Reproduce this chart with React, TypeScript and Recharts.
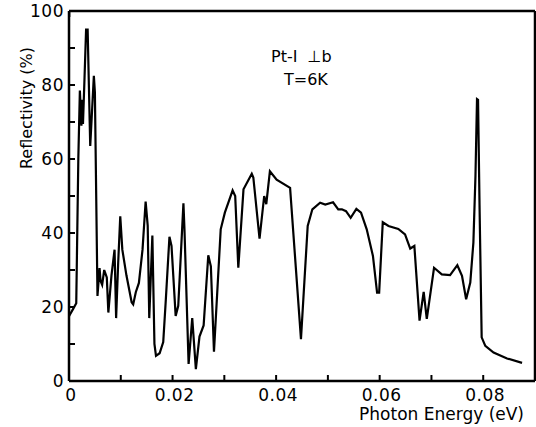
import { Line, LineChart, XAxis, YAxis } from "recharts";

// photon energy (eV) and reflectivity (%)
const energy = [
  0, 0.0008, 0.0014, 0.0018, 0.0021, 0.0023, 0.0024, 0.0026, 0.0027, 0.003, 0.0033, 0.0036,
  0.0041, 0.0048, 0.005, 0.0055, 0.0059, 0.0061, 0.0064, 0.0068, 0.0073, 0.0076, 0.0082,
  0.0088, 0.0091, 0.0095, 0.0099, 0.0103, 0.0111, 0.0121, 0.0124, 0.0129, 0.0135, 0.0142,
  0.0148, 0.0152, 0.0155, 0.0161, 0.0165, 0.0168, 0.0175, 0.0182, 0.0187, 0.0194, 0.0198,
  0.0206, 0.0211, 0.0221, 0.0223, 0.0231, 0.0238, 0.0245, 0.0252, 0.026, 0.0269, 0.0274,
  0.028, 0.0293, 0.0301, 0.0316, 0.0321, 0.0327, 0.0337, 0.0353, 0.0356, 0.0368, 0.0377,
  0.0381, 0.0388, 0.0401, 0.0427, 0.0448, 0.0461, 0.047, 0.0485, 0.0495, 0.051, 0.052,
  0.0527, 0.0535, 0.0544, 0.0555, 0.0564, 0.0575, 0.0587, 0.0595, 0.0599, 0.0606, 0.0617,
  0.0636, 0.0649, 0.0659, 0.0667, 0.0677, 0.0685, 0.0691, 0.0705, 0.072, 0.0736, 0.075,
  0.0759, 0.0767, 0.0775, 0.0781, 0.0785, 0.0788, 0.079, 0.0793, 0.0797, 0.0804, 0.082,
  0.0846, 0.0875,
];
const reflectivity = [
  17.5, 19.5, 21, 60, 78.5, 72, 69, 76, 69.5, 82, 95, 95,
  63.5, 82.5, 78, 23, 30.5, 27, 26, 30, 28, 18.5, 28.5,
  35.5, 17, 32, 44.5, 35.5, 28.5, 21.3, 20.7, 24, 26.5, 35.5,
  48.5, 42, 17, 39.3, 10, 6.8, 7.5, 10.5, 22, 39, 36.5,
  17.6, 20.3, 48, 41, 4.6, 17, 3.2, 12, 15, 34, 31,
  7.9, 41, 45.5, 51.5, 50, 30.6, 51.8, 56, 55, 38.5, 50,
  47.8, 56.7, 54.4, 52.2, 11.3, 41.9, 46.4, 48.2, 47.7, 48.3, 46.4,
  46.4, 45.9, 44.1, 46.5, 45.5, 41, 33.8, 23.9, 23.9, 42.9, 41.9,
  41.1, 39.6, 35.8, 36.5, 16.3, 24.1, 16.8, 30.6, 28.8, 28.6, 31.3,
  28.4, 22.1, 26.6, 37.4, 55.3, 76.2, 76, 46.4, 11.8, 9.5, 7.7,
  6.1, 4.9,
];

const xTicks = [0, 0.01, 0.02, 0.03, 0.04, 0.05, 0.06, 0.07, 0.08];
const yTicks = [0, 10, 20, 30, 40, 50, 60, 70, 80, 90, 100];
const topTicks = [0.02, 0.04, 0.06, 0.08];
const rightTicks = [20, 40, 60, 80];

const data = energy.map((e, i) => ({ e, r: reflectivity[i] }));

const W = 536;
const H = 427;
const LEFT = 69;
const TOP = 11;
const BOTTOM = 381;
const font = "'DejaVu Sans', sans-serif";

const BottomTick = (props: any) => {
  const { x, payload } = props;
  const v = payload.value;
  if (Math.round(v * 100) % 2 !== 0) return <g />;
  return (
    <text x={x + 2} y={BOTTOM + 20} textAnchor="middle" fontSize={17} fontFamily={font} letterSpacing={0.5} fill="#000">
      {v === 0 ? "0" : v.toFixed(2)}
    </text>
  );
};

const LeftTick = (props: any) => {
  const { y, payload } = props;
  const v = payload.value;
  if (v % 20 !== 0) return <g />;
  return (
    <text x={LEFT - 5} y={y + 6} textAnchor="end" fontSize={17} fontFamily={font} letterSpacing={0.5} fill="#000">
      {v}
    </text>
  );
};

const NoLabel = () => <g />;

const axisLine = { stroke: "#000", strokeWidth: 2.5 };
const tickLine = { stroke: "#000", strokeWidth: 2 };

export default function App() {
  return (
    <div style={{ position: "absolute", left: 0, top: 0, width: W, height: H, background: "#fff", fontFamily: font }}>
      <LineChart width={W} height={H} data={data} margin={{ top: TOP - 1, right: 0, left: LEFT - 30, bottom: H - BOTTOM - 30 }}>
        <XAxis
          dataKey="e"
          type="number"
          domain={[0, 0.09]}
          ticks={xTicks}
          height={30}
          tickSize={-6}
          tickLine={tickLine}
          tick={BottomTick}
          axisLine={axisLine}
          allowDataOverflow
        />
        <XAxis
          xAxisId="top"
          orientation="top"
          type="number"
          domain={[0, 0.09]}
          ticks={topTicks}
          height={1}
          tickSize={-6}
          tickLine={tickLine}
          tick={NoLabel}
          axisLine={axisLine}
        />
        <YAxis
          type="number"
          domain={[0, 100]}
          ticks={yTicks}
          width={30}
          tickSize={-6}
          tickLine={tickLine}
          tick={LeftTick}
          axisLine={axisLine}
          allowDataOverflow
        />
        <YAxis
          yAxisId="right"
          orientation="right"
          type="number"
          domain={[0, 100]}
          ticks={rightTicks}
          width={1}
          tickSize={-6}
          tickLine={tickLine}
          tick={NoLabel}
          axisLine={axisLine}
        />
        <Line
          type="linear"
          dataKey="r"
          stroke="#000"
          strokeWidth={2.2}
          dot={false}
          isAnimationActive={false}
        />
      </LineChart>
      <div style={{ position: "absolute", left: 271, top: 47, fontSize: 16, lineHeight: "20px", whiteSpace: "pre" }}>
        {"Pt-I  ⊥b"}
      </div>
      <div style={{ position: "absolute", left: 284, top: 70, fontSize: 16, lineHeight: "20px" }}>T=6K</div>
      <div
        style={{
          position: "absolute",
          left: 26,
          top: 108,
          fontSize: 16,
          whiteSpace: "nowrap",
          transform: "translate(-50%, -50%) rotate(-90deg)",
        }}
      >
        Reflectivity (%)
      </div>
      <div style={{ position: "absolute", right: 12, top: 405, fontSize: 17, lineHeight: "19px", whiteSpace: "nowrap" }}>
        Photon Energy (eV)
      </div>
    </div>
  );
}
